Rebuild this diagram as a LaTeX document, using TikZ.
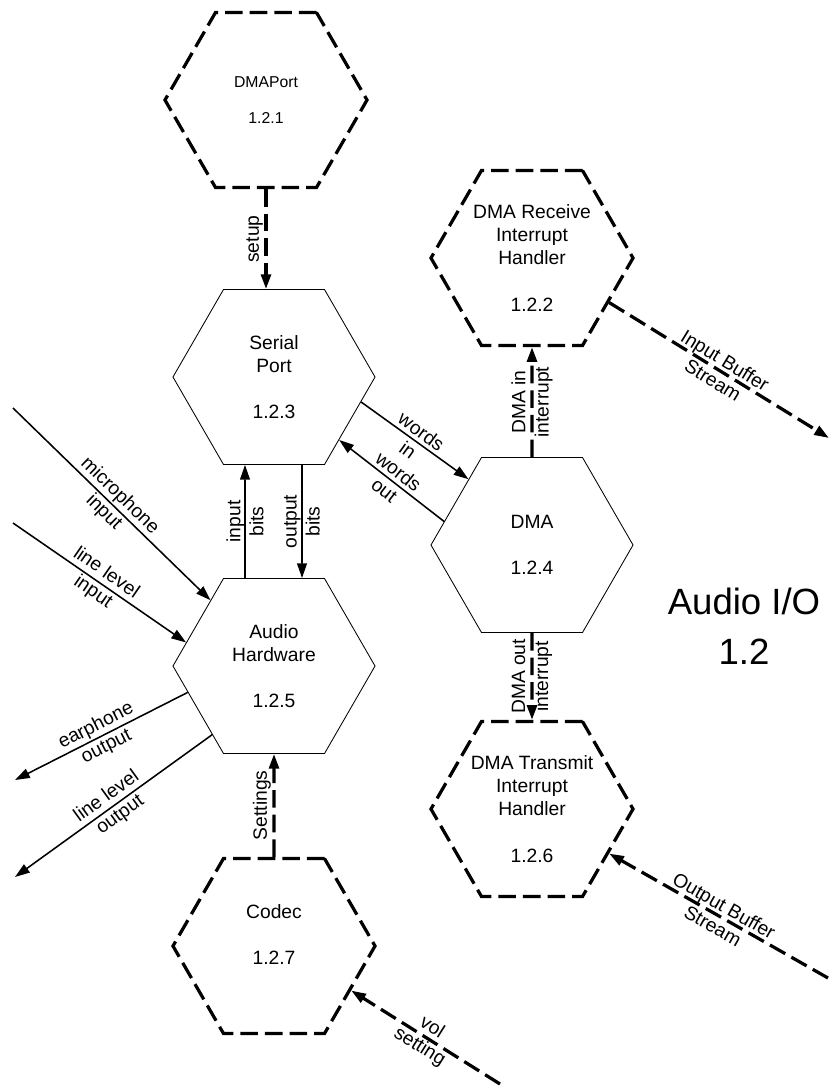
\documentclass[tikz,border=0pt]{standalone}
\usepackage{fontspec}
\setmainfont{Liberation Sans}
\usepackage{tikz}
\usetikzlibrary{arrows.meta, shapes.geometric}

\newcommand{\hexfont}{\fontsize{13.7}{16.4}\selectfont}
\newcommand{\smallhexfont}{\fontsize{11.2}{12.8}\selectfont}
\newcommand{\titlefont}{\fontsize{26}{35.5}\selectfont}
\newcommand{\gap}{\\[\baselineskip]}

\tikzset{
  proc/.style={regular polygon, regular polygon sides=6, minimum size=5.05cm,
    inner sep=0pt, draw, line width=0.6pt, align=center, font=\hexfont},
  extproc/.style={proc, line width=2.3pt, dash pattern=on 12.5pt off 5pt},
  flow/.style={-{Triangle[length=10.5pt, width=7pt]}, line width=1.1pt},
  extflow/.style={flow, line width=2.3pt, dash pattern=on 12.5pt off 5pt},
  lbl/.style={font=\hexfont, align=center, inner sep=1pt},
}

\begin{document}
\begin{tikzpicture}[x=0.025cm, y=-0.025cm]
  \useasboundingbox (0,0) rectangle (831,1088);

  % Processes
  \node[extproc, font=\smallhexfont] (dmaport) at (266,100) {DMAPort\gap 1.2.1};
  \node[proc] (serial) at (274,377) {Serial\\Port\gap 1.2.3};
  \node[proc] (audio) at (274,666) {Audio\\Hardware\gap 1.2.5};
  \node[extproc] (codec) at (274,946) {Codec\gap 1.2.7\\\mbox{}};
  \node[extproc] (rx) at (532,258) {DMA Receive\\Interrupt\\Handler\gap 1.2.2};
  \node[proc] (dma) at (532,545) {DMA\gap 1.2.4};
  \node[extproc] (tx) at (532,809) {DMA Transmit\\Interrupt\\Handler\gap 1.2.6};

  \node[font=\titlefont, align=center] (title) at (744,626) {Audio I/O\\1.2};

  % Outside ends
  \coordinate (micin) at (13,408);
  \coordinate (lvlin) at (13,523);
  \coordinate (earout) at (15,780);
  \coordinate (lvlout) at (15,877);
  \coordinate (inbuf) at (829,438);
  \coordinate (outbuf) at (828,978);
  \coordinate (volin) at (500,1084);

  % Flows
  \draw[extflow] (dmaport.south) -- (dmaport.south |- serial.north)
    node[lbl, midway, rotate=90, above] {setup};
  \draw[flow] ([xshift=-0.725cm]audio.north) -- ([xshift=-0.725cm]serial.south)
    node[lbl, midway, rotate=90] {input\\bits};
  \draw[flow] ([xshift=0.7cm]serial.south) -- ([xshift=0.7cm]audio.north)
    node[lbl, midway, rotate=90] {output\\bits};
  \draw[extflow] (codec.north) -- (audio.south)
    node[lbl, midway, rotate=90, above] {Settings};
  \draw[flow] (serial.-16) -- (dma.134) node[lbl, midway, sloped] {words\\in};
  \draw[flow] (dma.165) -- (serial.-44) node[lbl, midway, sloped] {words\\out};
  \draw[extflow] (dma.north) -- (rx.south)
    node[lbl, midway, rotate=90] {DMA in\\interrupt};
  \draw[extflow] (dma.south) -- (tx.north)
    node[lbl, midway, rotate=90] {DMA out\\interrupt};

  \draw[flow] (micin) -- (audio.134) node[lbl, midway, sloped] {microphone\\input};
  \draw[flow] (lvlin) -- (audio.165) node[lbl, midway, sloped] {line level\\input};
  \draw[flow] (audio.-163) -- (earout) node[lbl, midway, sloped] {earphone\\output};
  \draw[flow] (audio.-132) -- (lvlout) node[lbl, midway, sloped] {line level\\output};

  \draw[extflow] (rx.-30) -- (inbuf) node[lbl, midway, sloped] {Input Buffer\\Stream};
  \draw[extflow] (outbuf) -- (tx.-30) node[lbl, midway, sloped] {Output Buffer\\Stream};
  \draw[extflow] (volin) -- (codec.-30) node[lbl, midway, sloped] {vol\\setting};
\end{tikzpicture}
\end{document}
